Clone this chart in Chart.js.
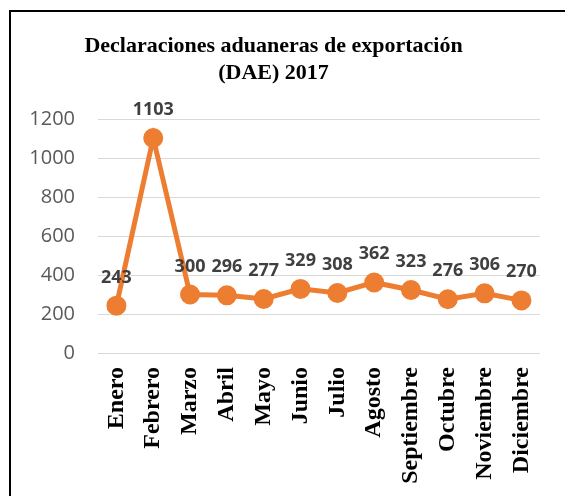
<!DOCTYPE html>
<html>
<head>
<meta charset="utf-8">
<script src="https://cdn.jsdelivr.net/npm/chart.js@4"></script>
<style>
  html, body { margin: 0; padding: 0; background: #fff; }
  #frame { position: absolute; left: 9px; top: 10px; width: 600px; height: 600px;
           border-left: 2px solid #000; border-top: 2px solid #000; }
  #wrap { position: absolute; left: 0; top: 0; width: 565px; height: 496px; }
</style>
</head>
<body>
<div id="frame"></div>
<div id="wrap"><canvas id="myChart" width="565" height="496"></canvas></div>
<script>
// datos del grafico
const meses = ['Enero','Febrero','Marzo','Abril','Mayo','Junio','Julio','Agosto','Septiembre','Octubre','Noviembre','Diciembre'];
const declaraciones = [243,1103,300,296,277,329,308,362,323,276,306,270];
const yTicks = [0,200,400,600,800,1000,1200];

// etiquetas encima de cada punto (no hay plugin datalabels)
const valueLabels = {
  id: 'valueLabels',
  afterDatasetsDraw(chart) {
    const ctx = chart.ctx;
    const meta = chart.getDatasetMeta(0);
    ctx.save();
    ctx.font = 'bold 18px "Open Sans"';
    ctx.fillStyle = '#404040';
    ctx.textAlign = 'center';
    ctx.textBaseline = 'alphabetic';
    meta.data.forEach(function(pt, i) {
      ctx.fillText(String(declaraciones[i]), pt.x, pt.y - 23);
    });
    ctx.restore();
  }
};

new Chart('myChart', {
  type: 'line',
  data: {
    labels: meses,
    datasets: [{
      data: declaraciones,
      borderColor: '#ED7D31',
      backgroundColor: '#ED7D31',
      borderWidth: 5,
      pointRadius: 7.5,
      pointHoverRadius: 7.5,
      tension: 0,
      fill: false
    }]
  },
  options: {
    responsive: false,
    animation: false,
    layout: { padding: { left: 0, right: 18, top: 0, bottom: 0 } },
    plugins: {
      legend: { display: false },
      tooltip: { enabled: false },
      title: {
        display: true,
        text: ['Declaraciones aduaneras de exportación', '(DAE) 2017'],
        color: '#000',
        font: { family: '"Liberation Serif", "Times New Roman", serif', size: 22, weight: 'bold', lineHeight: 1.23 },
        padding: { top: 33, bottom: 32 }
      }
    },
    scales: {
      x: {
        offset: true,
        grid: { display: false, drawTicks: false },
        border: { display: true, color: '#d9d9d9', width: 1 },
        ticks: {
          color: '#000',
          font: { family: '"Liberation Serif", "Times New Roman", serif', size: 24, weight: 'bold' },
          minRotation: 90,
          maxRotation: 90,
          autoSkip: false,
          padding: 14
        },
        afterFit(scale) { scale.height = 143; }
      },
      y: {
        min: 0,
        max: 1200,
        afterBuildTicks(scale) { scale.ticks = yTicks.map(v => ({ value: v })); },
        grid: { color: '#d9d9d9', lineWidth: 1, drawTicks: false },
        border: { display: false },
        ticks: {
          color: '#595959',
          font: { family: '"Open Sans"', size: 20 },
          padding: 23,
          callback: function(v) { return String(v); }
        },
        afterFit(scale) { scale.width = 98; }
      }
    }
  },
  plugins: [valueLabels]
});
</script>
</body>
</html>
